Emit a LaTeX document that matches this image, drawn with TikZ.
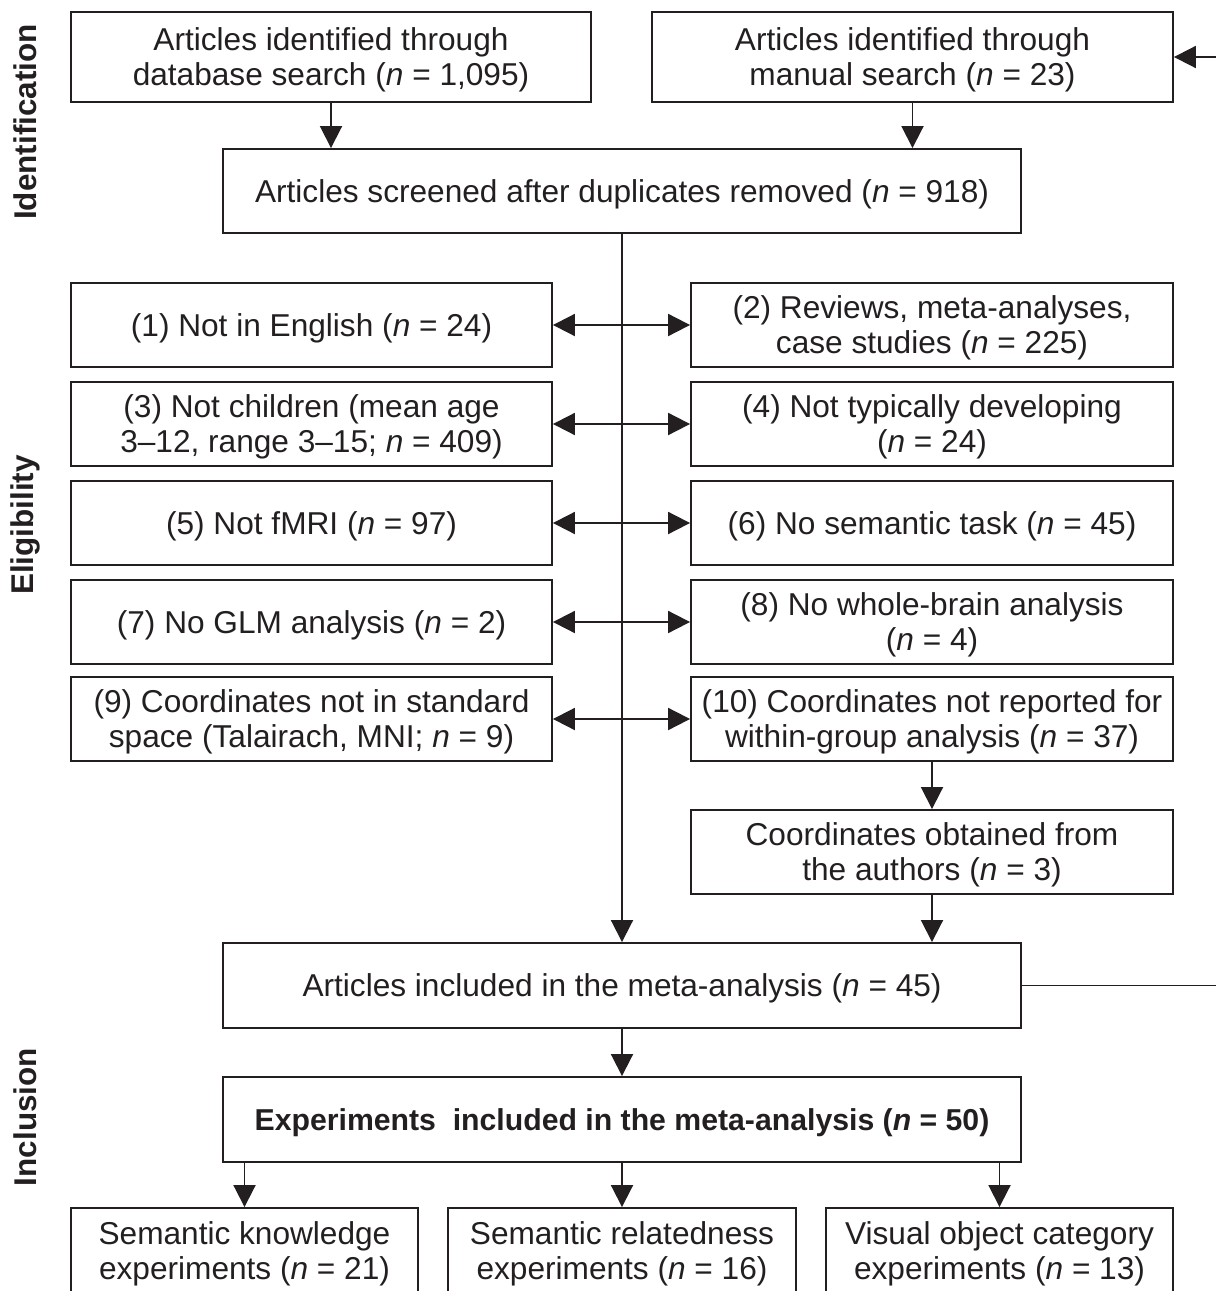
\documentclass[tikz,border=0pt]{standalone}
\usepackage{fontspec}
\setmainfont{Liberation Sans}
\usepackage{tikz}
\usetikzlibrary{arrows.meta,calc}
\definecolor{ink}{HTML}{231F20}
\newcommand{\nn}{\textit{n}}
\tikzset{
  box/.style={draw=ink, line width=1.1pt, rectangle, align=center, inner sep=2pt,
    text depth=0pt, text=ink, font=\fontsize{18pt}{19.9pt}\selectfont},
  arr/.style={-{Triangle[length=0.44cm,width=0.44cm]}, line width=1.1pt, draw=ink},
  dblarr/.style={{Triangle[length=0.44cm,width=0.44cm]}-{Triangle[length=0.44cm,width=0.44cm]}, line width=1.1pt, draw=ink},
  phase/.style={rotate=90, text=ink, font=\fontsize{17.9pt}{19.9pt}\selectfont\bfseries}
}

\begin{document}
\begin{tikzpicture}[x=0.02cm, y=-0.02cm]
  \useasboundingbox (0,0) rectangle (1215,1291);

  % phases
  \node[phase] (lbid) at (25,122) {Identification};
  \node[phase] (lbel) at (25,525) {Eligibility};
  \node[phase] (lbin) at (25,1117) {Inclusion};

  % identification
  \node[box, minimum width=10.4cm, minimum height=1.8cm] (db) at (331,57)
    {Articles identified through\\database search (\nn{} = 1,095)};
  \node[box, minimum width=10.42cm, minimum height=1.8cm] (man) at (912.5,57)
    {Articles identified through\\manual search (\nn{} = 23)};
  \node[box, minimum width=15.96cm, minimum height=1.68cm] (scr) at (622,191)
    {Articles screened after duplicates removed (\nn{} = 918)};

  % exclusions
  \node[box, minimum width=9.62cm, minimum height=1.68cm] (ex1) at (311.5,325)
    {(1) Not in English (\nn{} = 24)};
  \node[box, minimum width=9.64cm, minimum height=1.68cm] (ex2) at (932,325)
    {(2) Reviews, meta-analyses,\\case studies (\nn{} = 225)};
  \node[box, minimum width=9.62cm, minimum height=1.68cm] (ex3) at (311.5,424)
    {(3) Not children (mean age\\3--12, range 3--15; \nn{} = 409)};
  \node[box, minimum width=9.64cm, minimum height=1.68cm] (ex4) at (932,424)
    {(4) Not typically developing\\(\nn{} = 24)};
  \node[box, minimum width=9.62cm, minimum height=1.68cm] (ex5) at (311.5,523)
    {(5) Not fMRI (\nn{} = 97)};
  \node[box, minimum width=9.64cm, minimum height=1.68cm] (ex6) at (932,523)
    {(6) No semantic task (\nn{} = 45)};
  \node[box, minimum width=9.62cm, minimum height=1.68cm] (ex7) at (311.5,622)
    {(7) No GLM analysis (\nn{} = 2)};
  \node[box, minimum width=9.64cm, minimum height=1.68cm] (ex8) at (932,622)
    {(8) No whole-brain analysis\\(\nn{} = 4)};
  \node[box, minimum width=9.62cm, minimum height=1.68cm] (ex9) at (311.5,719)
    {(9) Coordinates not in standard\\space (Talairach, MNI; \nn{} = 9)};
  \node[box, minimum width=9.64cm, minimum height=1.68cm] (ex10) at (932,719)
    {(10) Coordinates not reported for\\within-group analysis (\nn{} = 37)};
  \node[box, minimum width=9.64cm, minimum height=1.68cm] (obt) at (932,852)
    {Coordinates obtained from\\the authors (\nn{} = 3)};

  % inclusion
  \node[box, minimum width=15.96cm, minimum height=1.7cm] (inc) at (622,985.5)
    {Articles included in the meta-analysis (\nn{} = 45)};
  \node[box, minimum width=15.96cm, minimum height=1.7cm, font=\fontsize{17.2pt}{19.9pt}\selectfont\bfseries] (exp) at (622,1119.5)
    {Experiments\ \ included in the meta-analysis (\nn{} = 50)};
  \node[box, minimum width=6.94cm, minimum height=1.7cm] (know) at (244.5,1250.5)
    {Semantic knowledge\\experiments (\nn{} = 21)};
  \node[box, minimum width=6.96cm, minimum height=1.7cm] (rel) at (622,1250.5)
    {Semantic relatedness\\experiments (\nn{} = 16)};
  \node[box, minimum width=6.94cm, minimum height=1.7cm] (vis) at (999.5,1250.5)
    {Visual object category\\experiments (\nn{} = 13)};

  \coordinate (loop) at (1240,0);

  % connectors
  \draw[arr] (db.south) -- (db.south |- scr.north);
  \draw[arr] (man.south) -- (man.south |- scr.north);
  \draw[arr] (scr.south) -- (inc.north);
  \draw[dblarr] (ex1.east) -- (ex2.west);
  \draw[dblarr] (ex3.east) -- (ex4.west);
  \draw[dblarr] (ex5.east) -- (ex6.west);
  \draw[dblarr] (ex7.east) -- (ex8.west);
  \draw[dblarr] (ex9.east) -- (ex10.west);
  \draw[arr] (ex10.south) -- (obt.north);
  \draw[arr] (obt.south) -- (obt.south |- inc.north);
  \draw[arr] (inc.east) -- (inc.east -| loop) |- (man.east);
  \draw[arr] (inc.south) -- (exp.north);
  \draw[arr] (exp.south -| know.north) -- (know.north);
  \draw[arr] (exp.south) -- (rel.north);
  \draw[arr] (exp.south -| vis.north) -- (vis.north);
\end{tikzpicture}
\end{document}
